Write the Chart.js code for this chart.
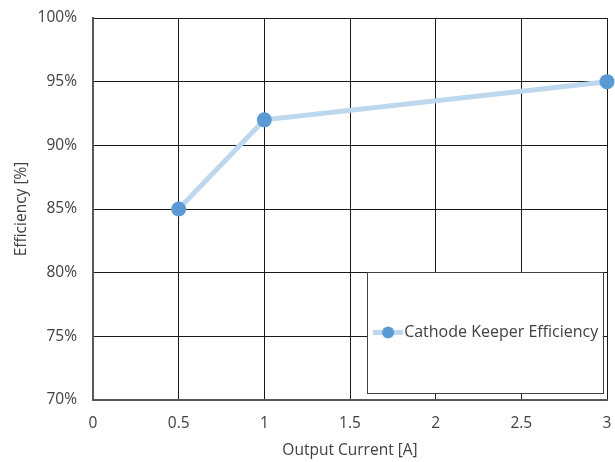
<!DOCTYPE html>
<html>
<head>
<meta charset="utf-8">
<script src="https://cdn.jsdelivr.net/npm/chart.js@4"></script>
<style>
  html, body { margin: 0; padding: 0; background: #fff; }
  #wrap { width: 615px; height: 462px; }
</style>
</head>
<body>
<div id="wrap"><canvas id="eff-chart" width="615" height="462"></canvas></div>
<script>
// data
const currents = [0.5, 1, 3];
const efficiency = [85, 92, 95];
const seriesName = "Cathode Keeper Efficiency";
const xTitle = "Output Current [A]";
const yTitle = "Efficiency [%]";

const lineColor = "#bdd7ee";
const dotColor = "#5b9bd5";
const textColor = "#404040";
const fontFamily = "'Open Sans', 'DejaVu Sans', sans-serif";

// legend box sitting inside the plot, like the Excel one
const legendBox = {
    id: "legendBox",
    afterDatasetsDraw(chart){
        const ctx = chart.ctx;
        const xs = chart.scales.x;
        const ys = chart.scales.y;
        const x0 = xs.getPixelForValue(1.6);
        const x1 = xs.getPixelForValue(2.975);
        const y0 = ys.getPixelForValue(80.05);
        const y1 = ys.getPixelForValue(70.55);
        ctx.save();
        ctx.fillStyle = "#fff";
        ctx.fillRect(x0, y0, x1 - x0, y1 - y0);
        ctx.strokeStyle = "#404040";
        ctx.lineWidth = 1;
        ctx.strokeRect(Math.round(x0) + 0.5, Math.round(y0) + 0.5, Math.round(x1 - x0), Math.round(y1 - y0));
        const cy = (y0 + y1) / 2;
        ctx.strokeStyle = lineColor;
        ctx.lineWidth = 5;
        ctx.beginPath();
        ctx.moveTo(x0 + 6, cy);
        ctx.lineTo(x0 + 36, cy);
        ctx.stroke();
        ctx.fillStyle = dotColor;
        ctx.beginPath();
        ctx.arc(x0 + 21, cy, 6, 0, Math.PI * 2);
        ctx.fill();
        ctx.fillStyle = textColor;
        ctx.font = "16px " + fontFamily;
        ctx.textBaseline = "middle";
        ctx.fillText(seriesName, x0 + 37, cy);
        ctx.restore();
    }
};

new Chart(document.getElementById("eff-chart"), {
    type: "line",
    data: {
        datasets: [{
            label: seriesName,
            data: currents.map((c, i) => ({x: c, y: efficiency[i]})),
            borderColor: lineColor,
            borderWidth: 5,
            pointBackgroundColor: dotColor,
            pointBorderWidth: 0,
            pointRadius: 7.5,
            pointHoverRadius: 7.5,
            tension: 0,
            clip: false
        }]
    },
    options: {
        responsive: false,
        animation: false,
        layout: {padding: {top: 18, right: 8, left: 0, bottom: 0}},
        plugins: {
            legend: {display: false},
            tooltip: {enabled: false}
        },
        scales: {
            x: {
                type: "linear",
                min: 0,
                max: 3,
                ticks: {stepSize: 0.5, color: textColor, padding: 14, font: {family: fontFamily, size: 15.5},
                    callback: v => String(v)},
                grid: {color: "#1a1a1a", lineWidth: 1, drawTicks: false},
                border: {color: "#595959", width: 2},
                title: {display: true, text: xTitle, color: textColor, font: {family: fontFamily, size: 15.5}, padding: {top: 4, bottom: 2}},
                afterFit(scale){
                    scale.height = 62;
                    scale.paddingLeft = 0;
                    scale.paddingRight = 0;
                }
            },
            y: {
                min: 70,
                max: 100,
                ticks: {stepSize: 5, color: textColor, padding: 16, font: {family: fontFamily, size: 15.5},
                    callback: v => v + "%"},
                grid: {color: "#1a1a1a", lineWidth: 1, drawTicks: false},
                border: {color: "#595959", width: 2},
                title: {display: true, text: yTitle, color: textColor, font: {family: fontFamily, size: 15.5}, padding: {top: 12, bottom: 4}},
                afterFit(scale){
                    scale.width = 93;
                    scale.paddingTop = 0;
                    scale.paddingBottom = 0;
                }
            }
        }
    },
    plugins: [legendBox]
});
</script>
</body>
</html>
